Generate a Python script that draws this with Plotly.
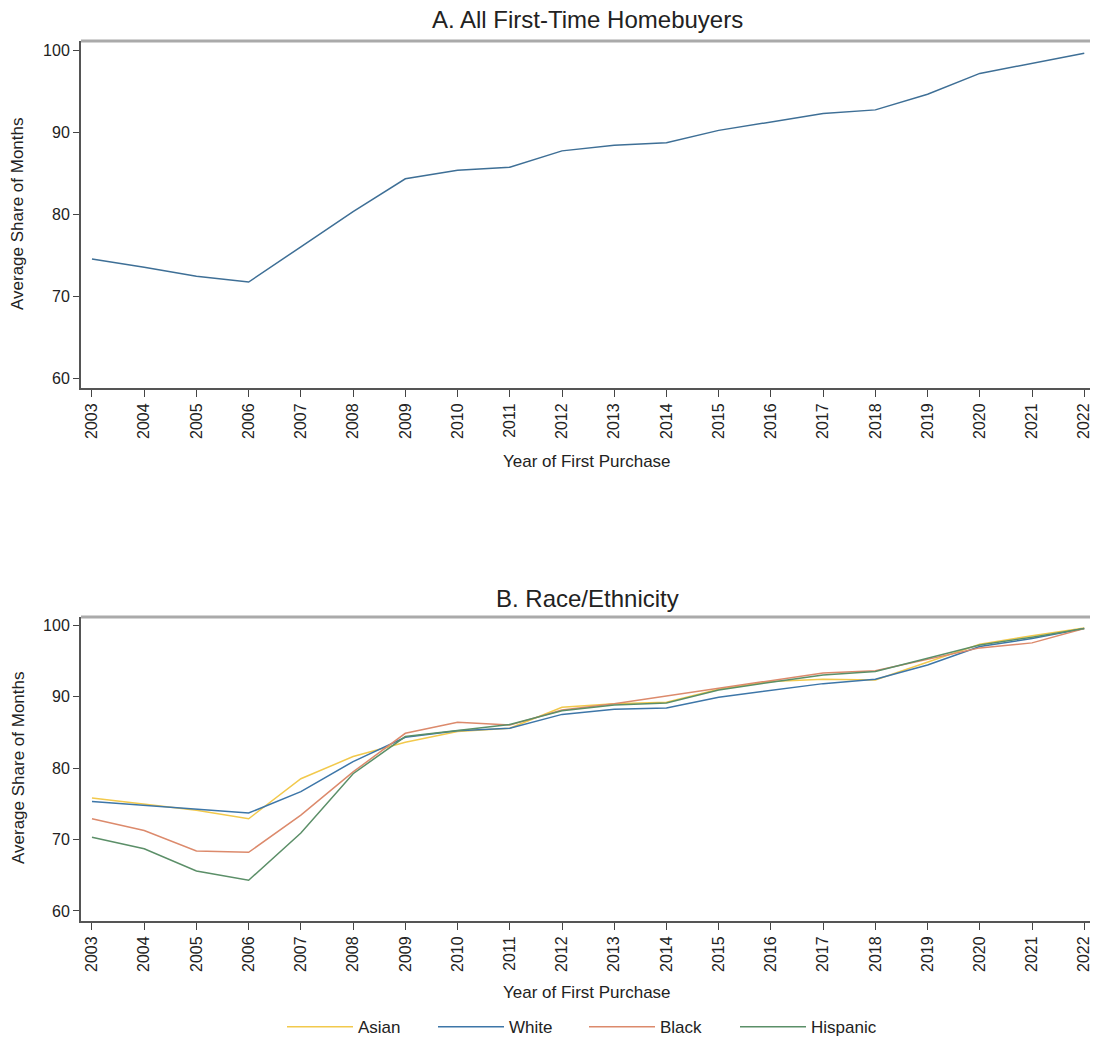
import plotly.graph_objects as go

years = list(range(2003, 2023))

all_buyers = [74.5, 73.5, 72.4, 71.7, 76.0, 80.3, 84.3, 85.35, 85.7, 87.7,
              88.4, 88.7, 90.2, 91.25, 92.25, 92.7, 94.6, 97.15, 98.4, 99.6]

asian = [75.8, 74.9, 74.1, 72.9, 78.5, 81.6, 83.6, 85.1, 85.55, 88.5,
         89.0, 89.2, 91.0, 92.1, 92.4, 92.3, 94.8, 97.3, 98.5, 99.6]
white = [75.3, 74.8, 74.2, 73.7, 76.7, 80.9, 84.3, 85.2, 85.55, 87.5,
         88.2, 88.4, 89.9, 90.9, 91.8, 92.4, 94.4, 97.0, 98.1, 99.5]
black = [72.9, 71.25, 68.4, 68.2, 73.4, 79.45, 84.85, 86.4, 86.0, 88.1,
         89.0, 90.1, 91.1, 92.2, 93.3, 93.6, 95.2, 96.8, 97.5, 99.5]
hispanic = [70.3, 68.7, 65.6, 64.3, 70.9, 79.2, 84.4, 85.3, 86.1, 88.0,
            88.8, 89.1, 90.9, 92.0, 93.0, 93.5, 95.3, 97.2, 98.3, 99.5]

series_names = ["Asian", "White", "Black", "Hispanic"]
series_values = [asian, white, black, hispanic]
series_colors = ["#f2c94c", "#3d76a8", "#dc8a6c", "#5b8f68"]

y_ticks = [60, 70, 80, 90, 100]

font_family = "Liberation Sans, Arial, sans-serif"

fig = go.Figure()

fig.add_trace(go.Scatter(x=years, y=all_buyers, mode="lines",
                         line=dict(color="#3e6f96", width=1.5),
                         showlegend=False, xaxis="x", yaxis="y"))

for name, vals, col in zip(series_names, series_values, series_colors):
    fig.add_trace(go.Scatter(x=years, y=vals, mode="lines", name=name,
                             line=dict(color=col, width=1.5),
                             xaxis="x2", yaxis="y2"))

W, H = 1094, 1041
x0, x1 = 81 / W, 1090 / W
top_dom = [1 - 388 / H, 1 - 41 / H]
bot_dom = [1 - 921 / H, 1 - 617 / H]

xcommon = dict(range=[2002.79, 2022.11], tickmode="array", tickvals=years,
               ticktext=[str(y) for y in years], tickangle=-90,
               ticks="outside", ticklen=7, tickcolor="#444", tickwidth=1,
               ticklabeloverflow="allow",
               showline=True, linecolor="#555", linewidth=2, showgrid=False,
               zeroline=False, tickfont=dict(size=16, color="#222", family=font_family))
ycommon = dict(tickmode="array", tickvals=y_ticks, ticks="outside", ticklen=6,
               tickcolor="#444", tickwidth=1, showline=True, linecolor="#555",
               linewidth=2, showgrid=False, zeroline=False,
               tickfont=dict(size=16, color="#222", family=font_family))

fig.update_layout(
    width=W, height=H,
    margin=dict(l=0, r=0, t=0, b=0, autoexpand=False),
    paper_bgcolor="white", plot_bgcolor="white",
    font=dict(family=font_family, color="#222"),
    xaxis=dict(domain=[x0, x1], anchor="y", **xcommon),
    yaxis=dict(domain=top_dom, anchor="x", range=[58.78, 101.1], **ycommon),
    xaxis2=dict(domain=[x0, x1], anchor="y2", **xcommon),
    yaxis2=dict(domain=bot_dom, anchor="x2", range=[58.6, 101.12], **ycommon),
    legend=dict(orientation="h", x=282 / W, xanchor="left", y=-0.004,
                yanchor="bottom", font=dict(size=17, color="#222", family=font_family),
                itemwidth=66, entrywidth=70, entrywidthmode="pixels",
                tracegroupgap=0, bgcolor="rgba(0,0,0,0)"),
    showlegend=True,
)

# top frame borders (light gray)
for dom in (top_dom, bot_dom):
    fig.add_shape(type="line", xref="paper", yref="paper", x0=x0, x1=x1,
                  y0=dom[1], y1=dom[1], line=dict(color="#aaaaaa", width=3))

ann = [
    dict(text="A. All First-Time Homebuyers", x=587 / W, y=1 - 20 / H, size=24),
    dict(text="B. Race/Ethnicity", x=587 / W, y=1 - 598 / H, size=24),
    dict(text="Year of First Purchase", x=587 / W, y=1 - 461 / H, size=17),
    dict(text="Year of First Purchase", x=587 / W, y=1 - 992 / H, size=17),
]
for a in ann:
    fig.add_annotation(text=a["text"], x=a["x"], y=a["y"], xref="paper", yref="paper",
                       showarrow=False, xanchor="center", yanchor="middle",
                       font=dict(size=a["size"], color="#222", family=font_family))
for yc in (214, 768):
    fig.add_annotation(text="Average Share of Months", x=18 / W, y=1 - yc / H,
                       xref="paper", yref="paper", showarrow=False, textangle=-90,
                       xanchor="center", yanchor="middle",
                       font=dict(size=17, color="#222", family=font_family))

fig.write_html("out.html", config={"displayModeBar": False},
               post_script="document.body.style.margin='0';document.body.style.overflow='hidden';")
